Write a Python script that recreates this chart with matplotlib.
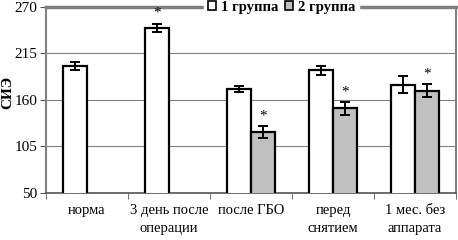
import numpy as np
import matplotlib.pyplot as plt
from matplotlib.patches import Patch

plt.rcParams['font.family'] = ['Liberation Serif', 'DejaVu Serif']

categories = ['норма', '3 день после\nоперации', 'после ГБО', 'перед\nснятием', '1 мес. без\nаппарата']
group1 = [200, 245, 173, 195, 178]
group1_err = [5, 5, 4, 5, 10]
group2 = [np.nan, np.nan, 122, 150, 171]
group2_err = [np.nan, np.nan, 7, 8, 8]
star1 = [False, True, False, False, False]
star2 = [False, False, True, True, True]
yticks = [50, 105, 160, 215, 270]

fig = plt.figure(figsize=(4.58, 2.40), dpi=100)
ax = fig.add_axes([0.1004, 0.196, 0.8952, 0.775])

x = np.arange(len(categories))
w = 0.29
ax.bar(x - w / 2, group1, w, color='white', edgecolor='black', linewidth=1.6, zorder=3)
ax.bar(x + w / 2, group2, w, color='#c0c0c0', edgecolor='black', linewidth=1.6, zorder=3)
ax.errorbar(x - w / 2, group1, yerr=group1_err, fmt='none', ecolor='black',
            elinewidth=1.4, capsize=3.5, capthick=1.4, zorder=4)
ax.errorbar(x + w / 2, group2, yerr=group2_err, fmt='none', ecolor='black',
            elinewidth=1.4, capsize=3.5, capthick=1.4, zorder=4)

for i in range(len(categories)):
    if star1[i]:
        ax.text(x[i] - w / 2, group1[i] + group1_err[i] + 5, '*', ha='center',
                va='bottom', fontsize=11, zorder=5)
    if star2[i]:
        ax.text(x[i] + w / 2, group2[i] + group2_err[i] + 4, '*', ha='center',
                va='bottom', fontsize=11, zorder=5)

ax.set_xlim(-0.5, len(categories) - 0.5)
ax.set_ylim(50, 270)
ax.set_yticks(yticks)
ax.set_yticklabels([str(v) for v in yticks], fontsize=11)
ax.yaxis.grid(True, color='#808080', linewidth=0.8, zorder=0)
ax.set_xticks(x)
ax.set_xticklabels(categories, fontsize=10.5, linespacing=1.5)
ax.set_xticks(np.arange(len(categories) + 1) - 0.5, minor=True)
ax.tick_params(axis='x', which='major', length=0, pad=8)
ax.tick_params(axis='x', which='minor', length=4, direction='out', color='#555555')
ax.tick_params(axis='y', length=4, color='#555555', pad=2)

for s in ['left', 'right']:
    ax.spines[s].set_color('#808080')
    ax.spines[s].set_linewidth(1.5)
ax.spines['top'].set_color('#808080')
ax.spines['top'].set_linewidth(2.5)
ax.spines['bottom'].set_color('#555555')
ax.spines['bottom'].set_linewidth(1.2)

ax.set_ylabel('СИЭ', fontsize=11, fontweight='bold')
ax.yaxis.set_label_coords(-0.078, 0.54)

handles = [Patch(facecolor='white', edgecolor='black', linewidth=1.2),
           Patch(facecolor='#c0c0c0', edgecolor='black', linewidth=1.2)]
leg = fig.legend(handles, ['1 группа', '2 группа'], loc='center',
                 bbox_to_anchor=(0.615, 0.97), ncol=2, frameon=True,
                 prop={'weight': 'bold', 'size': 10.5}, handlelength=0.55,
                 handleheight=0.55, handletextpad=0.3, columnspacing=0.5,
                 borderpad=0.1, borderaxespad=0)
leg.get_frame().set_facecolor('white')
leg.get_frame().set_edgecolor('white')
leg.get_frame().set_alpha(1)
leg.get_frame().set_boxstyle('square', pad=0.2)

fig.savefig('out.png', dpi=100)
